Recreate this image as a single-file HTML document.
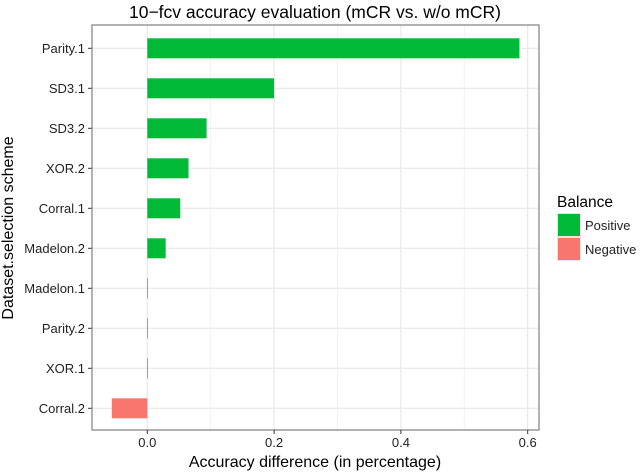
<!DOCTYPE html>
<html><head><meta charset="utf-8"><style>
body{margin:0;background:#fff;font-family:"Liberation Sans",sans-serif}
svg text{font-family:"Liberation Sans",sans-serif}
</style></head><body>
<svg id="chart" width="640" height="471"></svg>
<script>
const categories=["Parity.1","SD3.1","SD3.2","XOR.2","Corral.1","Madelon.2","Madelon.1","Parity.2","XOR.1","Corral.2"];
const values=[0.587,0.2,0.0935,0.065,0.052,0.029,0.001,0.001,0.001,-0.056];
const xTicks=[0,0.2,0.4,0.6];
const xTickLabels=["0.0","0.2","0.4","0.6"];
const xMinor=[0.1,0.3,0.5];
const L=92,R=539,T=25,B=430;
const x=v=>147.3+v*634;
const y=i=>48.3+40*i;
const NS="http://www.w3.org/2000/svg";
const svg=document.getElementById('chart');
function mk(tag,attrs,txt){const e=document.createElementNS(NS,tag);for(const k in attrs)e.setAttribute(k,attrs[k]);if(txt!==undefined)e.textContent=txt;svg.appendChild(e);return e;}
let e;
e=mk('rect',{x:L,y:T,width:R-L,height:B-T,fill:'#fff'});


xMinor.forEach(v=>{e=mk('line',{x1:x(v),x2:x(v),y1:T,y2:B,stroke:'#f2f2f2','stroke-width':1});

});
xTicks.forEach(v=>{e=mk('line',{x1:x(v),x2:x(v),y1:T,y2:B,stroke:'#e8e8e8','stroke-width':1.2});

});
categories.forEach((c,i)=>{e=mk('line',{x1:L,x2:R,y1:y(i),y2:y(i),stroke:'#e8e8e8','stroke-width':1.2});

});
categories.forEach((c,i)=>{const v=values[i];const x0=Math.min(x(0),x(v)),w=Math.max(Math.abs(x(v)-x(0)),0.6);
e=mk('rect',{x:x0,y:y(i)-10,width:w,height:20,fill:v>=0?'#00ba38':'#f8766d'});


e=mk('line',{x1:L-4,x2:L,y1:y(i),y2:y(i),stroke:'#333','stroke-width':1});


e=mk('text',{x:L-7,y:y(i)+4.5,'text-anchor':'end','font-size':13,fill:'#222'},c);

});
e=mk('rect',{x:L,y:T,width:R-L,height:B-T,fill:'none',stroke:'#7f7f7f','stroke-width':1.2});


xTicks.forEach((v,i)=>{e=mk('line',{x1:x(v),x2:x(v),y1:B,y2:B+4,stroke:'#333'});


e=mk('text',{x:x(v),y:B+17,'text-anchor':'middle','font-size':13,fill:'#222'},xTickLabels[i]);

});
e=mk('text',{x:315,y:467,'text-anchor':'middle','font-size':16,fill:'#000'},'Accuracy difference (in percentage)');


e=mk('text',{x:0,y:0,'text-anchor':'middle','font-size':16,fill:'#000',transform:'translate(13,228) rotate(-90)'},'Dataset.selection scheme');


e=mk('text',{x:315,y:18,'text-anchor':'middle','font-size':17.5,fill:'#000'},'10\u2212fcv accuracy evaluation (mCR vs. w/o mCR)');


e=mk('text',{x:557,y:207,'font-size':15.5,fill:'#000'},'Balance');


[['Positive','#00ba38'],['Negative','#f8766d']].forEach((d,i)=>{
e=mk('rect',{x:557.5,y:213.5+i*24,width:23,height:23,fill:d[1],stroke:'#e5e5e5'});


e=mk('text',{x:585,y:230+i*24,'font-size':13,fill:'#222'},d[0]);

});
</script>
</body></html>
